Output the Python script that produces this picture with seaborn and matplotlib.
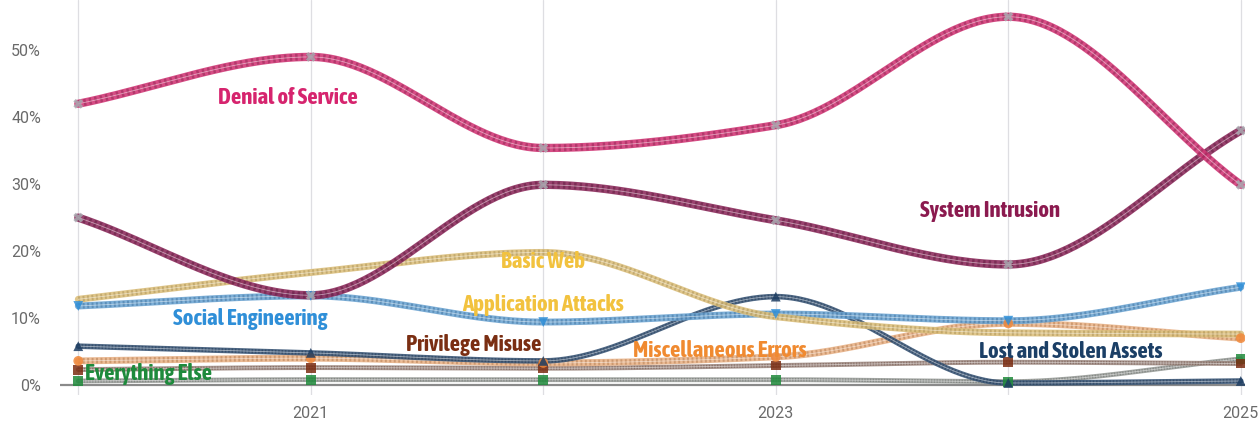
import numpy as np
import pandas as pd
import matplotlib
matplotlib.use("Agg")
import matplotlib.pyplot as plt
from matplotlib import font_manager
import seaborn as sns

years = [2020, 2021, 2022, 2023, 2024, 2025]

denial_of_service = [42.0, 49.0, 35.4, 38.8, 55.0, 29.9]
system_intrusion = [25.0, 13.4, 29.9, 24.6, 18.0, 38.0]
basic_web = [12.8, 16.8, 19.8, 10.2, 7.8, 7.6]
social_engineering = [11.8, 13.3, 9.4, 10.6, 9.6, 14.6]
lost_stolen = [5.8, 4.8, 3.6, 13.2, 0.3, 0.6]
misc_errors = [3.6, 4.0, 3.3, 4.2, 9.2, 7.0]
privilege_misuse = [2.3, 2.6, 2.5, 2.9, 3.4, 3.2]
everything_else = [0.6, 0.8, 0.8, 0.8, 0.5, 3.9]

series_names = ["Denial of Service", "System Intrusion", "Basic Web Application Attacks",
                "Social Engineering", "Lost and Stolen Assets", "Miscellaneous Errors",
                "Privilege Misuse", "Everything Else"]
series_values = [denial_of_service, system_intrusion, basic_web, social_engineering,
                 lost_stolen, misc_errors, privilege_misuse, everything_else]

y_ticks = [0, 10, 20, 30, 40, 50]
y_tick_labels = ["0%", "10%", "20%", "30%", "40%", "50%"]
x_ticks = [2021, 2023, 2025]
x_tick_labels = ["2021", "2023", "2025"]

# styling (not data)
line_colors = ["#d23a78", "#8e2d5e", "#dcc07e", "#6fa6d3", "#3c5878", "#e9b48a", "#a08c84", "#9a9e9a"]
dark_colors = ["#7d1a45", "#4e1231", "#9b8245", "#2d5f8c", "#142a45", "#a0683a", "#5a3a30", "#555a55"]
markers = ["X", "X", None, "v", "^", "o", "s", "s"]
marker_colors = ["#a9a9b0", "#a9a9b0", None, "#2f8fd8", "#1d3d62", "#f0883a", "#7b2d12", "#1f8a3b"]
widths = [6, 6, 5, 5, 4, 5, 3.5, 3.5]


def monotone_curve(x, y, n=60):
    x = np.asarray(x, float)
    y = np.asarray(y, float)
    h = np.diff(x)
    d = np.diff(y) / h
    m = np.zeros_like(y)
    m[0], m[-1] = d[0], d[-1]
    for i in range(1, len(y) - 1):
        if d[i - 1] * d[i] <= 0:
            m[i] = 0.0
        else:
            w1 = 2 * h[i] + h[i - 1]
            w2 = h[i] + 2 * h[i - 1]
            m[i] = (w1 + w2) / (w1 / d[i - 1] + w2 / d[i])
    xs, ys = [], []
    for i in range(len(x) - 1):
        t = np.linspace(0, 1, n, endpoint=(i == len(x) - 2))
        h00 = 2 * t**3 - 3 * t**2 + 1
        h10 = t**3 - 2 * t**2 + t
        h01 = -2 * t**3 + 3 * t**2
        h11 = t**3 - t**2
        xs.append(x[i] + t * h[i])
        ys.append(h00 * y[i] + h10 * h[i] * m[i] + h01 * y[i + 1] + h11 * h[i] * m[i + 1])
    return np.concatenate(xs), np.concatenate(ys)


sns.set_theme(style="white")

# pick a condensed font if available
condensed = None
for f in font_manager.fontManager.ttflist:
    nm = f.name.lower()
    if ("narrow" in nm or "condensed" in nm) and f.weight in ("bold", 700):
        condensed = f.name
        break
if condensed is None:
    for f in font_manager.fontManager.ttflist:
        if f.stretch in ("condensed", "semi-condensed", "extra-condensed") or (isinstance(f.stretch, int) and f.stretch < 500):
            condensed = f.name
            break

if condensed:
    label_family = [condensed, 'DejaVu Sans']
    label_size = 16.5
    label_stretch = "condensed"
else:
    label_family = ['Roboto', 'DejaVu Sans']
    label_size = 12.5
    label_stretch = "normal"

plt.rcParams['font.family'] = ['Roboto', 'DejaVu Sans']

fig = plt.figure(figsize=(12.58, 4.28), dpi=100)
ax = fig.add_axes([0.048, 0.077, 0.942, 0.923])

for yr in years:
    ax.axvline(yr, color="#dedee2", lw=0.9, zorder=0)
ax.axhline(0, xmin=0.0, xmax=1.0, color="#8a8a8a", lw=1.6, zorder=1)

order = list(range(len(series_names)))[::-1]
for i in order:
    xs, ys = monotone_curve(years, series_values[i])
    df = pd.DataFrame({"year": xs, "value": ys})
    sns.lineplot(data=df, x="year", y="value", ax=ax, color=line_colors[i], lw=widths[i],
                 sort=False, zorder=2 + (8 - i) * 0.1, alpha=0.9)
    sns.lineplot(data=df, x="year", y="value", ax=ax, color=dark_colors[i], lw=widths[i] - 1,
                 sort=False, zorder=2.05 + (8 - i) * 0.1, alpha=0.4,
                 linestyle=(0, (0.35, 0.45)))
    sns.lineplot(data=df, x="year", y="value", ax=ax, color="white", lw=0.6,
                 sort=False, zorder=2.06 + (8 - i) * 0.1, alpha=0.5)
    if markers[i] is not None:
        dfm = pd.DataFrame({"year": years, "value": series_values[i]})
        sns.scatterplot(data=dfm, x="year", y="value", ax=ax, marker=markers[i],
                        color=marker_colors[i], s=50, edgecolor="none", zorder=5, alpha=0.85)

label_specs = [
    ("Denial of Service", 2020.9, 42.8, "#d6246e"),
    ("System Intrusion", 2023.92, 26.0, "#8b1a4f"),
    ("Basic Web", 2022.0, 18.4, "#f2c23e"),
    ("Application Attacks", 2022.0, 11.9, "#f2c23e"),
    ("Social Engineering", 2020.74, 9.9, "#2f8fd8"),
    ("Privilege Misuse", 2021.7, 5.9, "#7a2e12"),
    ("Miscellaneous Errors", 2022.76, 5.1, "#f08a30"),
    ("Lost and Stolen Assets", 2024.27, 5.0, "#1b3f66"),
    ("Everything Else", 2020.3, 1.7, "#1e8a3c"),
]
for txt, lx, ly, c in label_specs:
    ax.text(lx, ly, txt, color=c, fontsize=label_size, fontweight="bold", ha="center", va="center",
            zorder=6, family=label_family, fontstretch=label_stretch)

ax.set_xlim(2019.923, 2025.02)
ax.set_ylim(-1.5, 57.5)
ax.set_yticks(y_ticks)
ax.set_yticklabels(y_tick_labels)
ax.set_xticks(x_ticks)
ax.set_xticklabels(x_tick_labels)
ax.tick_params(axis="both", length=0, colors="#6a6a6a", labelsize=11.5)
ax.tick_params(axis="x", pad=8)
ax.tick_params(axis="y", pad=14)
ax.set_xlabel("")
ax.set_ylabel("")
for s in ax.spines.values():
    s.set_visible(False)
ax.grid(False)

fig.savefig("out.png", dpi=100)
